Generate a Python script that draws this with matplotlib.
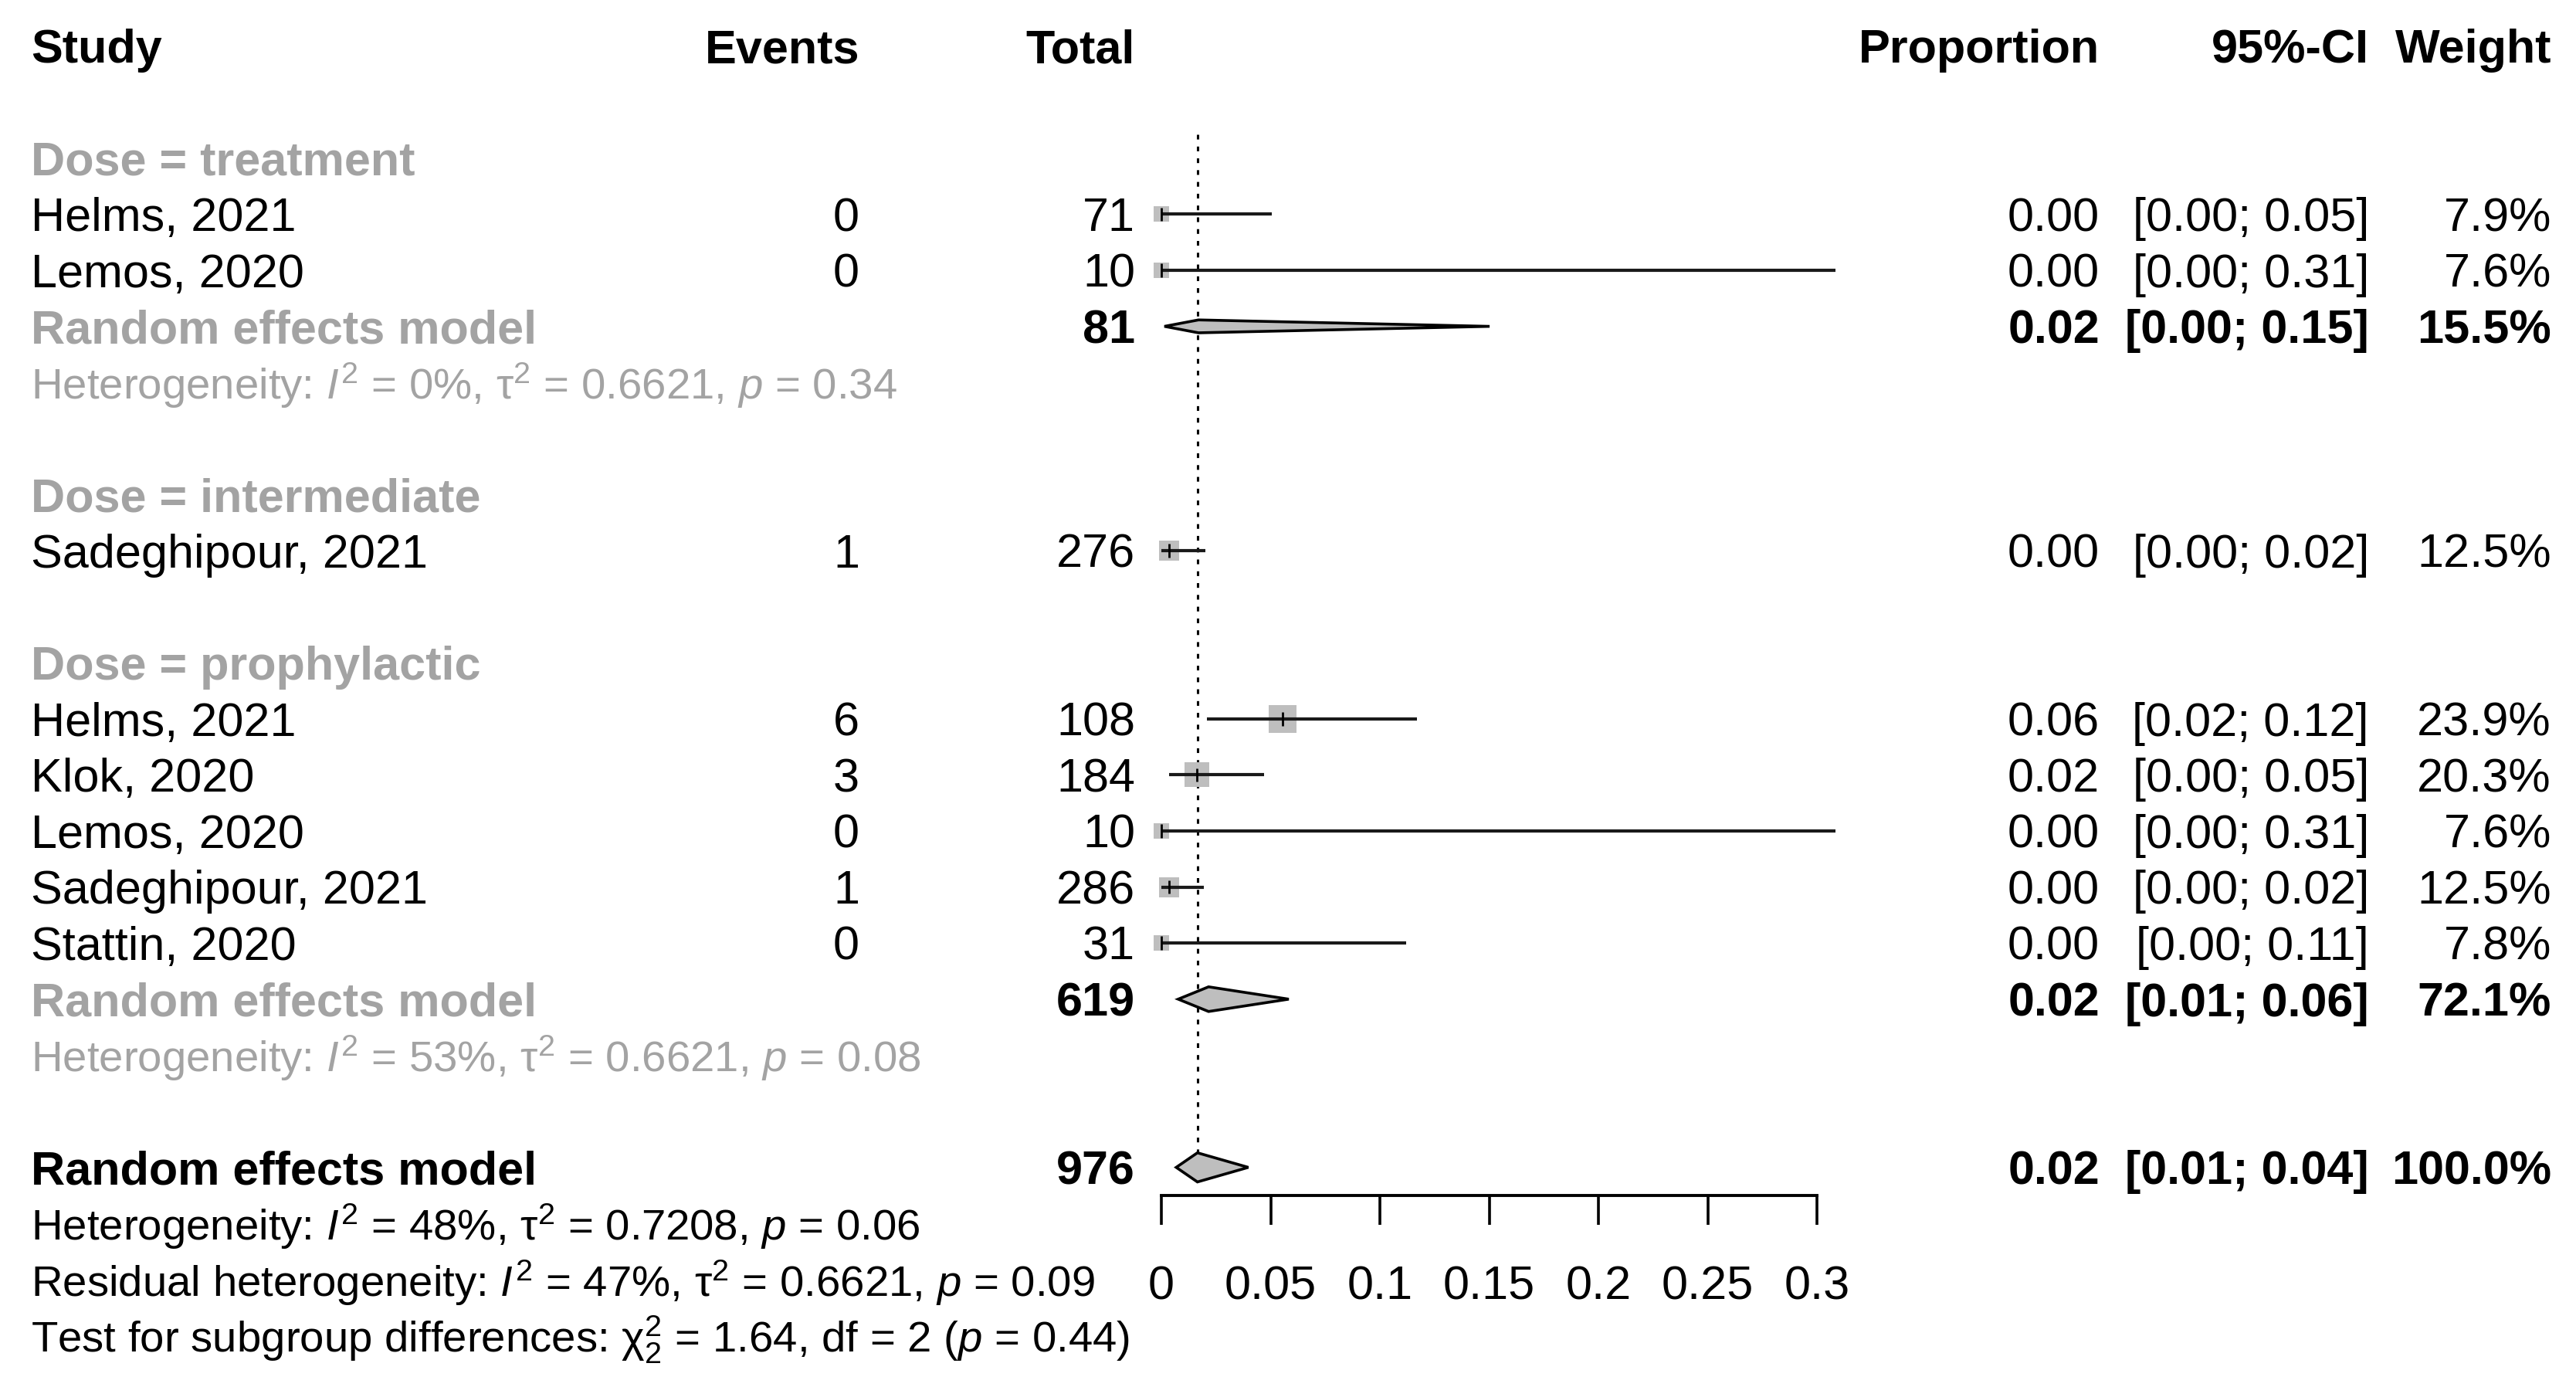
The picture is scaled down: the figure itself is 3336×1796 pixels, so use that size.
import matplotlib
matplotlib.use('Agg')
import matplotlib.pyplot as plt
import numpy as np

plt.rcParams['font.family'] = ['Liberation Sans', 'DejaVu Sans']
plt.rcParams['mathtext.fontset'] = 'custom'
plt.rcParams['mathtext.rm'] = 'Liberation Sans'
plt.rcParams['mathtext.it'] = 'Liberation Sans:italic'
plt.rcParams['mathtext.bf'] = 'Liberation Sans:bold'

# study level data
studies = ["Helms, 2021", "Lemos, 2020", "Sadeghipour, 2021", "Helms, 2021",
           "Klok, 2020", "Lemos, 2020", "Sadeghipour, 2021", "Stattin, 2020"]
dose = ["treatment", "treatment", "intermediate", "prophylactic",
        "prophylactic", "prophylactic", "prophylactic", "prophylactic"]
events = [0, 0, 1, 6, 3, 0, 1, 0]
totals = [71, 10, 276, 108, 184, 10, 286, 31]
prop = [0.0, 0.0, 0.0036, 0.0556, 0.0163, 0.0, 0.0035, 0.0]
ci_lo = [0.0, 0.0, 0.0001, 0.0207, 0.0034, 0.0, 0.0001, 0.0]
ci_hi = [0.0506, 0.3085, 0.0200, 0.1170, 0.0470, 0.3085, 0.0193, 0.1120]
weights = [7.9, 7.6, 12.5, 23.9, 20.3, 7.6, 12.5, 7.8]

# subgroup pooled results
groups = ["treatment", "intermediate", "prophylactic"]
pooled_groups = ["treatment", "prophylactic"]
pooled_est = [0.0170, 0.0216]
pooled_lo = [0.0014, 0.0077]
pooled_hi = [0.1502, 0.0583]
pooled_total = [81, 619]
pooled_weight = [15.5, 72.1]
pooled_i2 = ["0%", "53%"]
pooled_tau2 = ["0.6621", "0.6621"]
pooled_p = ["0.34", "0.08"]

# overall
overall_est = 0.0165
overall_lo = 0.0068
overall_hi = 0.0398
overall_total = 976
overall_weight = 100.0

tick_vals = [0, 0.05, 0.1, 0.15, 0.2, 0.25, 0.3]
tick_labels = ["0", "0.05", "0.1", "0.15", "0.2", "0.25", "0.3"]

GRAY_TXT = '#a3a3a3'
GRAY_FILL = '#bebebe'
FS = 22
FS_HET = 20.3
W, H = 3336, 1796
ROW0, ROWH = 59.6, 72.6
ylim = ((H - ROW0) / ROWH, -ROW0 / ROWH)

# column positions (pixels)
X_STUDY, X_EVENTS, X_TOTAL = 40, 1113, 1470
X_PROP, X_CI, X_WEIGHT = 2719, 3068, 3304
X_AX0, X_AX1 = 1504, 2353

fig = plt.figure(figsize=(W / 200, H / 200), dpi=200)
axt = fig.add_axes([0, 0, 1, 1])
axt.set_xlim(0, W)
axt.set_ylim(*ylim)
axt.axis('off')

axf = fig.add_axes([X_AX0 / W, 0, (X_AX1 - X_AX0) / W, 1])
axf.set_xlim(0, 0.3)
axf.set_ylim(*ylim)
axf.patch.set_alpha(0)
for s in ['top', 'left', 'right']:
    axf.spines[s].set_visible(False)
axf.set_yticks([])


def txt(x, r, s, ha='left', bold=False, color='black', size=FS):
    axt.text(x, r + 0.30, s, ha=ha, va='baseline', fontsize=size,
             fontweight='bold' if bold else 'normal', color=color)


def diamond(r, est, lo, hi, h):
    xs = [lo, est, hi, est, lo]
    ys = [r, r - h / 2, r, r + h / 2, r]
    axf.fill(xs, ys, facecolor=GRAY_FILL, edgecolor='black', lw=1.3,
             zorder=5, clip_on=False)


# header
txt(X_STUDY, 0, "Study", bold=True)
txt(X_EVENTS, 0, "Events", ha='right', bold=True)
txt(X_TOTAL, 0, "Total", ha='right', bold=True)
txt(X_PROP, 0, "Proportion", ha='right', bold=True)
txt(X_CI, 0, "95%-CI", ha='right', bold=True)
txt(X_WEIGHT, 0, "Weight", ha='right', bold=True)

diamond_h = {"treatment": 0.23, "prophylactic": 0.44}

r = 2
for g in groups:
    txt(X_STUDY, r, "Dose = " + g, bold=True, color=GRAY_TXT)
    r += 1
    for i in range(len(studies)):
        if dose[i] != g:
            continue
        txt(X_STUDY, r, studies[i])
        txt(X_EVENTS, r, str(events[i]), ha='right')
        txt(X_TOTAL, r, str(totals[i]), ha='right')
        txt(X_PROP, r, f"{prop[i]:.2f}", ha='right')
        txt(X_CI, r, f"[{ci_lo[i]:.2f}; {ci_hi[i]:.2f}]", ha='right')
        txt(X_WEIGHT, r, f"{weights[i]:.1f}%", ha='right')
        axf.plot(prop[i], r, marker='s', ms=2.6 * np.sqrt(weights[i]),
                 color=GRAY_FILL, mew=0, zorder=2, clip_on=False)
        axf.hlines(r, ci_lo[i], ci_hi[i], color='#1a1a1a', lw=1.5,
                   zorder=3, clip_on=False)
        axf.vlines(prop[i], r - 0.12, r + 0.12, color='black', lw=1.0,
                   zorder=4, clip_on=False)
        r += 1
    if g in pooled_groups:
        k = pooled_groups.index(g)
        txt(X_STUDY, r, "Random effects model", bold=True, color=GRAY_TXT)
        txt(X_TOTAL, r, str(pooled_total[k]), ha='right', bold=True)
        txt(X_PROP, r, f"{pooled_est[k]:.2f}", ha='right', bold=True)
        txt(X_CI, r, f"[{pooled_lo[k]:.2f}; {pooled_hi[k]:.2f}]", ha='right', bold=True)
        txt(X_WEIGHT, r, f"{pooled_weight[k]:.1f}%", ha='right', bold=True)
        diamond(r, pooled_est[k], pooled_lo[k], pooled_hi[k], diamond_h[g])
        txt(X_STUDY, r + 1,
            r"Heterogeneity: $I^2$ = " + pooled_i2[k] + r", τ$^2$ = "
            + pooled_tau2[k] + r", $p$ = " + pooled_p[k], color=GRAY_TXT,
            size=FS_HET)
        r += 2
    r += 1

# overall
txt(X_STUDY, r, "Random effects model", bold=True)
txt(X_TOTAL, r, str(overall_total), ha='right', bold=True)
txt(X_PROP, r, f"{overall_est:.2f}", ha='right', bold=True)
txt(X_CI, r, f"[{overall_lo:.2f}; {overall_hi:.2f}]", ha='right', bold=True)
txt(X_WEIGHT, r, f"{overall_weight:.1f}%", ha='right', bold=True)
diamond(r, overall_est, overall_lo, overall_hi, 0.52)
axf.vlines(overall_est, 1.58, r, color='black', lw=1.1,
           linestyles=(0, (2, 3)), zorder=1)
txt(X_STUDY, r + 1, r"Heterogeneity: $I^2$ = 48%, τ$^2$ = 0.7208, $p$ = 0.06",
    size=FS_HET)
txt(X_STUDY, r + 2, r"Residual heterogeneity: $I^2$ = 47%, τ$^2$ = 0.6621, $p$ = 0.09",
    size=FS_HET)
txt(X_STUDY, r + 3, r"Test for subgroup differences: χ$^2_2$ = 1.64, df = 2 ($p$ = 0.44)",
    size=FS_HET)

# x axis
axf.spines['bottom'].set_position(('data', r + 0.5))
axf.spines['bottom'].set_bounds(0, 0.3)
axf.spines['bottom'].set_linewidth(1.4)
axf.set_xticks(tick_vals)
axf.set_xticklabels(tick_labels, fontsize=FS)
axf.tick_params(axis='x', direction='out', length=13.5, width=1.3, pad=19)

fig.savefig('out.png', dpi=200)
